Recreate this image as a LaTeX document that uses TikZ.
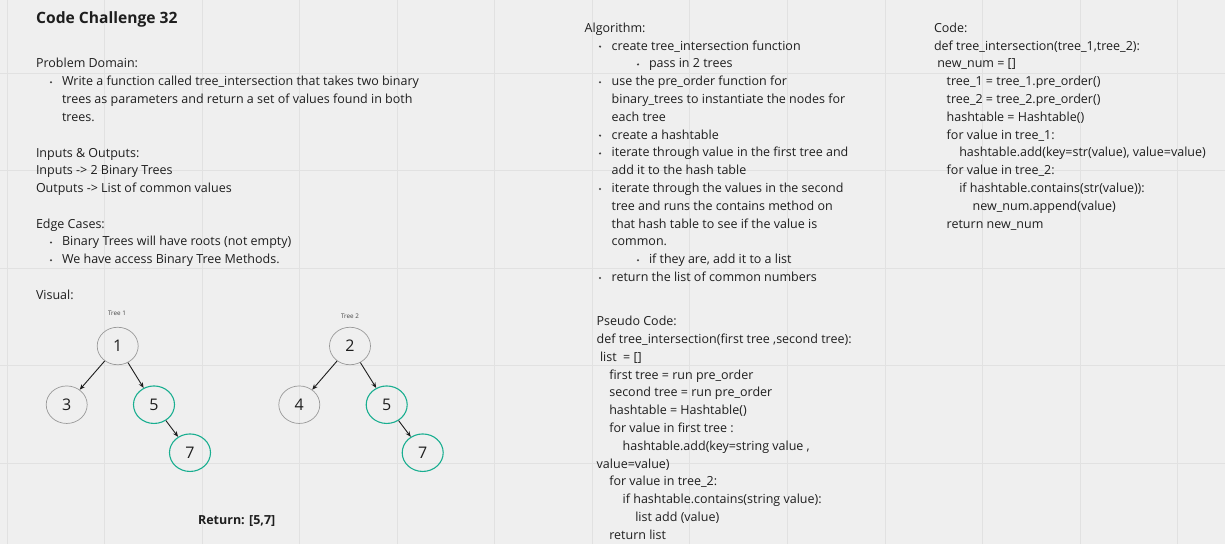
\documentclass[tikz,border=0pt]{standalone}
\usepackage{fontspec}
\setmainfont{Open Sans}
\usetikzlibrary{shapes.geometric,arrows.meta}
\definecolor{bg}{HTML}{EFEFEF}
\definecolor{gridc}{HTML}{E1E1E1}
\definecolor{txt}{HTML}{1E1E1E}
\definecolor{teal2}{HTML}{19AE90}
\definecolor{ring}{HTML}{999999}
\definecolor{lbl}{HTML}{444444}
\tikzset{
  t/.style={anchor=base west,inner sep=0pt,outer sep=0pt,text=txt,font=\fontsize{12.5}{17.8}\selectfont},
  ttl/.style={anchor=base west,inner sep=0pt,text=txt,font=\fontsize{15.6}{18}\selectfont\bfseries},
  bul/.style={circle,fill=txt!85,inner sep=0pt,minimum size=2.3pt},
  tnode/.style={ellipse,draw=ring,line width=0.7pt,minimum width=41pt,minimum height=37.5pt,inner sep=0pt,text=txt,font=\fontsize{16}{18}\selectfont},
  hit/.style={tnode,draw=teal2,line width=1.1pt},
  tl/.style={inner sep=0pt,text=lbl,font=\fontsize{6.3}{7}\selectfont},
  arr/.style={-{Stealth[length=5.5pt,width=4.5pt]},draw=txt,line width=0.9pt},
}
\begin{document}
\begin{tikzpicture}[x=1pt,y=-1pt]
\useasboundingbox (0,0) rectangle (1225,544);
\fill[bg] (0,0) rectangle (1225,544);
\foreach \i in {0,...,12} \draw[gridc,line width=1pt] (7+97.56*\i,0) -- (7+97.56*\i,544);
\foreach \j in {0,...,4} \draw[gridc,line width=1pt] (0,73+97.5*\j) -- (1225,73+97.5*\j);

% ---------------- left column
\node[ttl] (title) at (36,23) {Code Challenge 32};
\node[t] (l2) at (36,67.9) {Problem Domain:};
\node[bul] (b3) at (51,82.2) {};
\node[t] (l3) at (62,85.7) {Write a function called tree\_intersection that takes two binary};
\node[t] (l4) at (62,103.5) {trees as parameters and return a set of values found in both};
\node[t] (l5) at (62,121.3) {trees.};
\node[t] (l7) at (36,157.0) {Inputs \& Outputs:};
\node[t] (l8) at (36,174.7) {Inputs -> 2 Binary Trees};
\node[t] (l9) at (36,192.5) {Outputs -> List of common values};
\node[t] (l11) at (36,228.1) {Edge Cases:};
\node[bul] (b12) at (51,242.4) {};
\node[t] (l12) at (62,245.9) {Binary Trees will have roots (not empty)};
\node[bul] (b13) at (51,260.2) {};
\node[t] (l13) at (62,263.7) {We have access Binary Tree Methods.};
\node[t] (l15) at (36,299.3) {Visual:};

% ---------------- trees
\node[tl] (tr1) at (117,313) {Tree 1};
\node[tnode] (a1) at (117.7,346) {1};
\node[tnode] (a3) at (66.7,404.7) {3};
\node[hit] (a5) at (154,404.7) {5};
\node[hit] (a7) at (190,452.7) {7};
\draw[arr] (a1) -- (a3);
\draw[arr] (a1) -- (a5);
\draw[arr] (a5) -- (a7);

\node[tl] (tr2) at (350,316) {Tree 2};
\node[tnode] (c2n) at (350,346) {2};
\node[tnode] (c4n) at (299.3,404.7) {4};
\node[hit] (c5n) at (386.7,404.7) {5};
\node[hit] (c7n) at (422.7,452.7) {7};
\draw[arr] (c2n) -- (c4n);
\draw[arr] (c2n) -- (c5n);
\draw[arr] (c5n) -- (c7n);

\node[inner sep=0pt,text=txt,font=\fontsize{12.5}{14}\selectfont\bfseries] (ret) at (236.7,521.3) {Return: [5,7]};

% ---------------- algorithm
\node[t] (m0) at (584.7,32.3) {Algorithm:};
\node[bul] (mb1) at (600,46.6) {};
\node[t] (m1) at (611.7,50.1) {create tree\_intersection function};
\node[bul] (mb2) at (638,64.4) {};
\node[t] (m2) at (649,67.9) {pass in 2 trees};
\node[bul] (mb3) at (600,82.2) {};
\node[t] (m3) at (611.7,85.7) {use the pre\_order function for};
\node[t] (m4) at (611.7,103.5) {binary\_trees to instantiate the nodes for};
\node[t] (m5) at (611.7,121.3) {each tree};
\node[bul] (mb6) at (600,135.6) {};
\node[t] (m6) at (611.7,139.1) {create a hashtable};
\node[bul] (mb7) at (600,153.4) {};
\node[t] (m7) at (611.7,156.9) {iterate through value in the first tree and};
\node[t] (m8) at (611.7,174.7) {add it to the hash table};
\node[bul] (mb9) at (600,189.0) {};
\node[t] (m9) at (611.7,192.5) {iterate through the values in the second};
\node[t] (m10) at (611.7,210.3) {tree and runs the contains method on};
\node[t] (m11) at (611.7,228.1) {that hash table to see if the value is};
\node[t] (m12) at (611.7,245.9) {common.};
\node[bul] (mb13) at (638,260.2) {};
\node[t] (m13) at (649,263.7) {if they are, add it to a list};
\node[bul] (mb14) at (600,278.0) {};
\node[t] (m14) at (611.7,281.5) {return the list of common numbers};

% ---------------- pseudo code
\node[t] (p0) at (596.7,325.7) {Pseudo Code:};
\node[t] (p1) at (596.7,343.5) {def tree\_intersection(first tree ,second tree):};
\node[t] (p2) at (600,361.3) {list \ = []};
\node[t] (p3) at (609.3,379.1) {first tree = run pre\_order};
\node[t] (p4) at (609.3,396.9) {second tree = run pre\_order};
\node[t] (p5) at (609.3,414.7) {hashtable = Hashtable()};
\node[t] (p6) at (609.3,432.5) {for value in first tree :};
\node[t] (p7) at (622.7,450.3) {hashtable.add(key=string value ,};
\node[t] (p8) at (596.7,468.1) {value=value)};
\node[t] (p9) at (609.3,485.9) {for value in tree\_2:};
\node[t] (p10) at (622.7,503.7) {if hashtable.contains(string value):};
\node[t] (p11) at (635.3,521.5) {list add (value)};
\node[t] (p12) at (609.3,539.3) {return list};

% ---------------- code
\node[t] (k0) at (934,32.3) {Code:};
\node[t] (k1) at (934,50.1) {def tree\_intersection(tree\_1,tree\_2):};
\node[t] (k2) at (937.3,67.9) {new\_num = []};
\node[t] (k3) at (946.7,85.7) {tree\_1 = tree\_1.pre\_order()};
\node[t] (k4) at (946.7,103.5) {tree\_2 = tree\_2.pre\_order()};
\node[t] (k5) at (946.7,121.3) {hashtable = Hashtable()};
\node[t] (k6) at (946.7,139.1) {for value in tree\_1:};
\node[t] (k7) at (959.3,156.9) {hashtable.add(key=str(value), value=value)};
\node[t] (k8) at (946.7,174.7) {for value in tree\_2:};
\node[t] (k9) at (959.3,192.5) {if hashtable.contains(str(value)):};
\node[t] (k10) at (972.7,210.3) {new\_num.append(value)};
\node[t] (k11) at (946.7,228.1) {return new\_num};
\end{tikzpicture}
\end{document}
